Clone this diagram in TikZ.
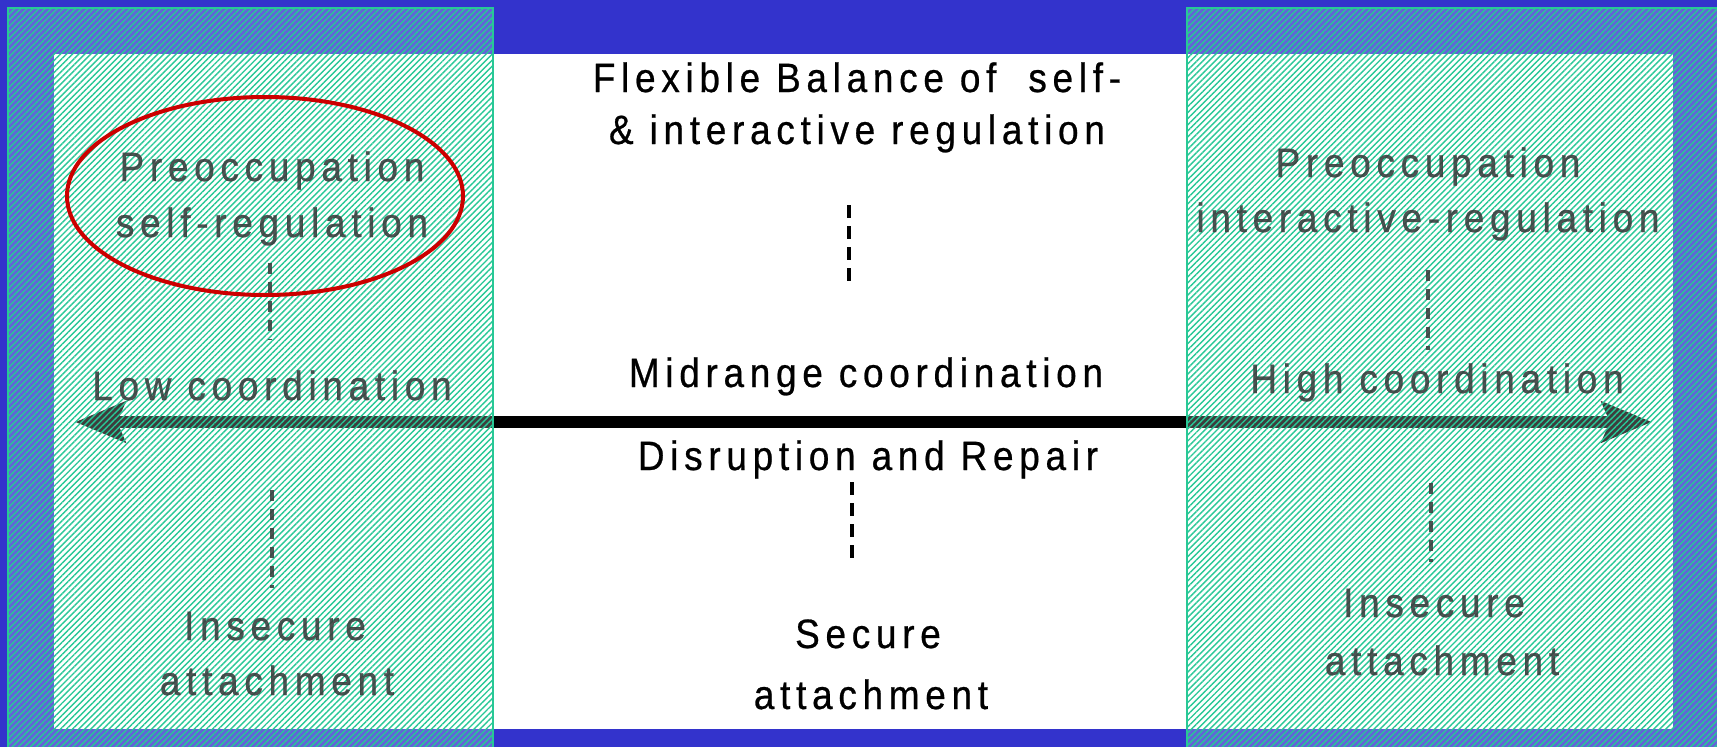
\documentclass[tikz,border=0pt]{standalone}
\usepackage{fontspec}
\newfontfamily\lab{Liberation Sans}[FakeStretch=0.9,LetterSpace=14,FakeBold=0.6]
\usetikzlibrary{patterns.meta,arrows.meta}
\definecolor{bgblue}{RGB}{51,51,204}
\definecolor{hatch}{RGB}{40,200,150}
\definecolor{ring}{RGB}{204,0,0}
\definecolor{sidegray}{RGB}{55,60,60}
\begin{document}
\begin{tikzpicture}[x=1pt,y=-1pt,
  txt/.style={font=\lab\fontsize{41}{48}\selectfont, anchor=base, inner sep=0pt},
  stxt/.style={txt, text=sidegray, text opacity=0.88},
  dsh/.style={line width=4pt, dash pattern=on 13pt off 8pt},
  sdsh/.style={dsh, draw=sidegray, draw opacity=0.88, line width=3.5pt, dash pattern=on 11pt off 8pt},
  panel/.style={draw=hatch, line width=2pt,
    preaction={fill=white, fill opacity=0.24},
    pattern={Lines[angle=45,distance=4.3pt,line width=1.4pt]}, pattern color=hatch},
  axis/.style={line width=12pt, >={Stealth[length=50pt,width=40pt,inset=8pt]}, <->}]
\useasboundingbox (0,0) rectangle (1717,747);
\fill[bgblue] (0,0) rectangle (1717,747);
\fill[white] (54,54) rectangle (1673,729);
% main axis
\coordinate (aL) at (75,422);
\coordinate (aR) at (1652,422);
\draw[axis] (aL) -- (aR);
% centre texts
\node[txt] (flex1) at (857,92) {Flexible Balance of \ self-};
\node[txt] (flex2) at (857,144) {\& interactive regulation};
\node[txt] (mid) at (866,387) {Midrange coordination};
\node[txt] (dis) at (868,470) {Disruption and Repair};
\node[txt] (sec1) at (868,648) {Secure};
\node[txt] (sec2) at (871,709) {attachment};
\coordinate (c1a) at (849,205); \coordinate (c1b) at (849,287);
\coordinate (c2a) at (852,482); \coordinate (c2b) at (852,564);
\draw[dsh] (c1a) -- (c1b);
\draw[dsh] (c2a) -- (c2b);
% hatched side panels
\path[panel] (8,8) rectangle (493,770);
\path[panel] (1187,8) rectangle (1740,770);
% left texts
\node[stxt] (lp1) at (272,181) {Preoccupation};
\node[stxt] (lp2) at (272,237) {self-regulation};
\node[stxt] (low) at (272,400) {Low coordination};
\node[stxt] (li1) at (275,640) {Insecure};
\node[stxt] (li2) at (277,695) {attachment};
% right texts
\node[stxt] (rp1) at (1428,177) {Preoccupation};
\node[stxt] (rp2) at (1428,232) {interactive-regulation};
\node[stxt] (high) at (1437,393) {High coordination};
\node[stxt] (ri1) at (1434,617) {Insecure};
\node[stxt] (ri2) at (1442,675) {attachment};
% side dashed links
\coordinate (l1a) at (270,263); \coordinate (l1b) at (270,340);
\coordinate (l2a) at (272,490); \coordinate (l2b) at (272,588);
\coordinate (r1a) at (1428,270); \coordinate (r1b) at (1428,350);
\coordinate (r2a) at (1431,483); \coordinate (r2b) at (1431,562);
\draw[sdsh] (l1a) -- (l1b);
\draw[sdsh] (l2a) -- (l2b);
\draw[sdsh] (r1a) -- (r1b);
\draw[sdsh] (r2a) -- (r2b);
% red ring
\draw[ring, line width=4pt] (265,196) ellipse [x radius=198, y radius=99];
\end{tikzpicture}
\end{document}
